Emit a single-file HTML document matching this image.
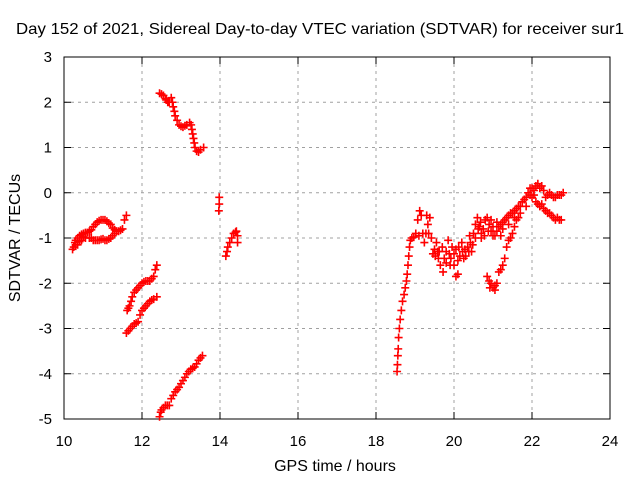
<!DOCTYPE html>
<html><head><meta charset="utf-8"><style>
body{margin:0;background:#fff}
svg{display:block;font-family:"Liberation Sans",sans-serif}
</style></head><body>
<svg id="chart" width="640" height="480"></svg>
<script>
const xTicks=[10,12,14,16,18,20,22,24];
const yTicks=[-5,-4,-3,-2,-1,0,1,2,3];
const segA=[[10.25,-1.2],[10.28,-1.1],[10.3,-1.05],[10.35,-1.0],[10.4,-0.95],[10.45,-0.92],[10.5,-0.9],[10.55,-0.88],[10.6,-0.88],[10.65,-0.85],[10.7,-0.82],[10.75,-0.75],[10.8,-0.7],[10.85,-0.65],[10.9,-0.62],[10.95,-0.6],[11.0,-0.6],[11.05,-0.6],[11.1,-0.63],[11.15,-0.67],[11.2,-0.7],[11.25,-0.78],[11.3,-0.82],[11.35,-0.85],[11.4,-0.85],[11.45,-0.83],[11.5,-0.8],[11.55,-0.6],[11.6,-0.5],[10.3,-1.15],[10.4,-1.08],[10.45,-1.05],[10.55,-1.0],[10.65,-1.0],[10.7,-1.0],[10.75,-1.05],[10.8,-1.05],[10.85,-1.05],[10.9,-1.05],[10.95,-1.03],[11.0,-1.02],[11.05,-1.05],[11.1,-1.05],[11.15,-1.02],[11.2,-1.0],[11.25,-0.95],[11.3,-0.9],[10.22,-1.25],[10.35,-1.15],[10.5,-0.98]];
const segB=[[12.45,2.2],[12.5,2.18],[12.55,2.15],[12.6,2.08],[12.62,2.05],[12.66,2.0],[12.7,2.0],[12.75,2.1],[12.78,2.0],[12.8,1.9],[12.83,1.8],[12.85,1.7],[12.9,1.6],[12.95,1.5],[13.0,1.47],[13.05,1.45],[13.1,1.48],[13.15,1.5],[13.22,1.55],[13.26,1.5],[13.28,1.4],[13.3,1.3],[13.32,1.2],[13.34,1.1],[13.36,1.0],[13.4,0.92],[13.45,0.9],[13.5,0.95],[13.58,1.0]];
const segC=[[11.62,-2.6],[11.65,-2.55],[11.68,-2.5],[11.72,-2.4],[11.75,-2.3],[11.8,-2.2],[11.85,-2.15],[11.9,-2.1],[11.95,-2.05],[12.0,-2.0],[12.05,-1.97],[12.1,-1.95],[12.15,-1.95],[12.2,-1.95],[12.25,-1.9],[12.3,-1.85],[12.34,-1.7],[12.38,-1.6]];
const segD=[[11.6,-3.1],[11.65,-3.05],[11.7,-3.0],[11.75,-2.95],[11.8,-2.9],[11.85,-2.88],[11.9,-2.85],[11.95,-2.7],[12.0,-2.6],[12.05,-2.55],[12.1,-2.5],[12.15,-2.45],[12.2,-2.4],[12.25,-2.37],[12.3,-2.35],[12.38,-2.3]];
const segE=[[12.45,-4.95],[12.48,-4.85],[12.5,-4.8],[12.55,-4.75],[12.6,-4.7],[12.65,-4.7],[12.7,-4.7],[12.75,-4.55],[12.8,-4.48],[12.85,-4.4],[12.9,-4.35],[12.95,-4.3],[13.0,-4.22],[13.05,-4.15],[13.1,-4.08],[13.15,-4.0],[13.2,-3.95],[13.25,-3.9],[13.3,-3.88],[13.35,-3.85],[13.4,-3.78],[13.45,-3.7],[13.5,-3.65],[13.55,-3.6]];
const segF=[[13.98,-0.1],[13.98,-0.25],[13.97,-0.4]];
const segG=[[14.15,-1.4],[14.18,-1.3],[14.2,-1.2],[14.25,-1.1],[14.3,-1.0],[14.35,-0.9],[14.4,-0.87],[14.42,-0.85],[14.45,-0.95],[14.45,-1.1]];
const segH=[[18.54,-3.95],[18.55,-3.8],[18.56,-3.6],[18.57,-3.45],[18.58,-3.2],[18.6,-3.0],[18.62,-2.8],[18.65,-2.6],[18.68,-2.4],[18.72,-2.25],[18.75,-2.1],[18.78,-1.95],[18.8,-1.8],[18.82,-1.6],[18.84,-1.4],[18.86,-1.2],[18.88,-1.05],[18.92,-1.0],[18.97,-0.98],[19.02,-0.9],[19.07,-0.6],[19.12,-0.4],[19.16,-0.5],[19.2,-0.9],[19.24,-1.1],[19.28,-0.9],[19.33,-0.7],[19.38,-0.55],[19.42,-1.0],[19.46,-1.35],[19.52,-1.4],[19.58,-1.3],[19.65,-1.6],[19.72,-1.75],[19.8,-1.55],[19.88,-1.35],[19.95,-1.2],[20.0,-1.6],[20.05,-1.85],[20.1,-1.8],[20.15,-1.4],[20.22,-1.3],[20.28,-1.25],[20.35,-1.2],[20.42,-1.1],[20.5,-0.9],[20.55,-0.7],[20.6,-0.55],[20.65,-0.75],[20.7,-0.9],[20.75,-0.8],[20.8,-0.6],[20.85,-0.55],[20.9,-0.7],[20.95,-0.85],[21.0,-0.95],[21.05,-0.95],[21.1,-0.85],[21.15,-0.75],[21.2,-0.7],[21.25,-0.65],[21.3,-0.6],[21.35,-0.55],[21.4,-0.5],[21.45,-0.45],[21.5,-0.45],[21.55,-0.4],[21.6,-0.35],[21.65,-0.3],[21.7,-0.3],[21.75,-0.2],[21.8,-0.15],[21.85,-0.1],[21.9,0.0],[21.95,0.1],[22.0,0.1],[22.05,0.05],[22.1,0.15],[22.15,0.2],[22.2,0.1],[22.25,0.15],[22.3,0.05],[22.35,-0.1],[22.4,-0.05],[22.45,0.0],[22.5,-0.05],[22.55,-0.1],[22.6,-0.1],[22.65,-0.05],[22.7,-0.05],[22.75,-0.05],[22.8,0.0]];
const segI=[[22.0,-0.1],[22.05,-0.05],[22.1,-0.2],[22.15,-0.25],[22.2,-0.3],[22.25,-0.25],[22.3,-0.35],[22.35,-0.4],[22.4,-0.45],[22.45,-0.45],[22.5,-0.5],[22.55,-0.55],[22.6,-0.6],[22.65,-0.55],[22.7,-0.6],[22.75,-0.6]];
const segJ=[[20.85,-1.85],[20.9,-1.95],[20.95,-2.0],[21.0,-2.1],[21.05,-2.05],[21.1,-2.0],[21.15,-1.75],[21.2,-1.7],[21.25,-1.6],[21.3,-1.45],[21.35,-1.2],[21.4,-1.05],[21.45,-1.0],[21.5,-0.9],[21.55,-0.75],[21.6,-0.6],[21.65,-0.55],[19.55,-1.1],[19.7,-1.2],[19.85,-1.05],[20.05,-1.25],[20.2,-1.1],[20.4,-0.95],[20.3,-1.4],[19.9,-1.6],[19.6,-1.45],[20.45,-1.3],[20.7,-1.0],[20.95,-0.6],[21.2,-0.95],[19.5,-1.25],[19.62,-1.3],[19.75,-1.45],[19.8,-1.3],[19.92,-1.45],[20.0,-1.35],[20.1,-1.5],[20.12,-1.2],[20.25,-1.45],[20.38,-1.3],[20.48,-1.15],[20.55,-1.0],[20.62,-0.8],[20.68,-0.65],[20.78,-0.95],[20.88,-0.85],[21.0,-0.75],[21.1,-0.65],[21.25,-0.8],[21.4,-0.7],[21.55,-0.55],[21.7,-0.45],[21.85,-0.3],[21.95,-0.05],[20.92,-2.1],[21.05,-2.15],[19.3,-0.5],[19.35,-0.9],[19.1,-0.95]];
const series=[segA,segB,segC,segD,segE,segF,segG,segH,segI,segJ];

const L=64,R=610,T=57,B=419;
const sx=h=>L+(h-10)/(24-10)*(R-L);
const sy=v=>B-(v+5)/8*(B-T);
const NS="http://www.w3.org/2000/svg";
const svg=document.getElementById('chart');
function mk(tag,attrs,parent){const e=document.createElementNS(NS,tag);for(const k in attrs)e.setAttribute(k,attrs[k]);(parent||svg).appendChild(e);return e;}

const grid=mk('g',{});


xTicks.forEach(t=>{const x=sx(t);
  if(t>10&&t<24){const g=mk('line',{x1:x,x2:x,y1:T,y2:B,stroke:'#a0a0a0','stroke-dasharray':'3,4','stroke-width':1},grid);
  }
  mk('line',{x1:x,x2:x,y1:B,y2:B-7,stroke:'#000'});mk('line',{x1:x,x2:x,y1:T,y2:T+7,stroke:'#000'});
  const tx=mk('text',{x:x,y:B+27,'text-anchor':'middle','font-size':15});tx.textContent=t;
  
});
yTicks.forEach(t=>{const y=sy(t);
  if(t>-5&&t<3){const g=mk('line',{x1:L,x2:R,y1:y,y2:y,stroke:'#a0a0a0','stroke-dasharray':'3,4','stroke-width':1},grid);
  }
  mk('line',{x1:L,x2:L+7,y1:y,y2:y,stroke:'#000'});mk('line',{x1:R,x2:R-7,y1:y,y2:y,stroke:'#000'});
  const tx=mk('text',{x:52,y:y+5,'text-anchor':'end','font-size':15});tx.textContent=t;
  
});
const frame=mk('rect',{x:L,y:T,width:R-L,height:B-T,fill:'none',stroke:'#000','stroke-width':1});



const pts=mk('g',{stroke:'#ff0000','stroke-width':1.6,fill:'none'});


series.forEach(s=>s.forEach(([h,v])=>{const x=sx(h),y=sy(v);
  const p=mk('path',{d:`M${x-4},${y}H${x+4}M${x},${y-4}V${y+4}`},pts);
  
  
}));

const title=mk('text',{x:320,y:34,'text-anchor':'middle','font-size':16,textLength:608,lengthAdjust:'spacingAndGlyphs'});
title.textContent='Day 152 of 2021, Sidereal Day-to-day VTEC variation (SDTVAR) for receiver sur1';


const xl=mk('text',{x:335,y:471,'text-anchor':'middle','font-size':16});
xl.textContent='GPS time / hours';


const yl=mk('text',{x:0,y:0,'text-anchor':'middle','font-size':16,transform:'translate(20,238) rotate(-90)'});
yl.textContent='SDTVAR / TECUs';


</script>
</body></html>
